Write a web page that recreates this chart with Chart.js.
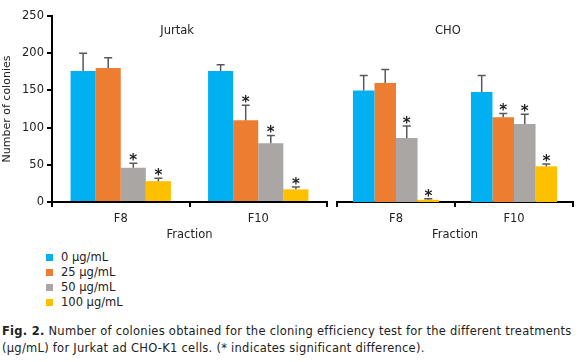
<!DOCTYPE html>
<html>
<head>
<meta charset="utf-8">
<script src="https://cdn.jsdelivr.net/npm/chart.js@4.4.1/dist/chart.umd.min.js"></script>
<style>
  html, body { margin: 0; padding: 0; background: #fff; }
  body { width: 580px; height: 362px; position: relative; overflow: hidden; font-family: "DejaVu Sans", Verdana, sans-serif; color: #222; }
  #left { position: absolute; left: 0; top: 0; }
  #right { position: absolute; left: 330px; top: 0; }
  #legend { position: absolute; left: 46px; top: 250px; font-size: 11.5px; line-height: 15px; }
  #legend div { display: flex; align-items: center; }
  #legend span.sw { display: inline-block; width: 7px; height: 7px; margin-right: 8px; }
  #caption { position: absolute; left: 2px; top: 323px; width: 580px; font-size: 11.5px; letter-spacing: 0.26px; line-height: 17px; }
</style>
</head>
<body>
<canvas id="left" width="330" height="245"></canvas>
<canvas id="right" width="250" height="245"></canvas>
<div id="legend"></div>
<div id="caption"><b>Fig. 2.</b> Number of colonies obtained for the cloning efficiency test for the different treatments (µg/mL) for Jurkat ad CHO-K1 cells. (* indicates significant difference).</div>
<script>
const fractions = ['F8', 'F10']
const doses = ['0 µg/mL', '25 µg/mL', '50 µg/mL', '100 µg/mL']
const doseColors = ['#00b0f0', '#ed7d31', '#a9a6a4', '#ffc000']
const yTicks = [0, 50, 100, 150, 200, 250]

// means per dose, [F8, F10]
const jurkatMeans = [[176, 176], [180, 110], [46, 79], [28, 17]]
const jurkatErr = [[24, 8.5], [14, 20], [6, 10.5], [4, 3]]
const jurkatSig = [[false, false], [false, true], [true, true], [true, true]]

const choMeans = [[150, 148], [160, 114], [86, 105], [3, 48]]
const choErr = [[20, 22], [18, 5], [16, 13], [1.5, 3]]
const choSig = [[false, false], [false, true], [true, true], [true, true]]

const FONT = '"DejaVu Sans", Verdana, sans-serif'
const TXT = '#222'

const errorBars = {
    id: 'errorBars',
    afterDatasetsDraw(chart, args, opts) {
        const { ctx, chartArea } = chart
        const y = chart.scales.y
        ctx.save()
        chart.data.datasets.forEach((ds, i) => {
            chart.getDatasetMeta(i).data.forEach((bar, j) => {
                const top = y.getPixelForValue(ds.data[j] + ds.err[j])
                ctx.strokeStyle = '#595959'
                ctx.lineWidth = 1.5
                ctx.beginPath()
                ctx.moveTo(bar.x, bar.y)
                ctx.lineTo(bar.x, top)
                ctx.moveTo(bar.x - 4, top)
                ctx.lineTo(bar.x + 4, top)
                ctx.stroke()
                if (ds.sig[j]) {
                    ctx.fillStyle = TXT
                    ctx.font = 'bold 15px ' + FONT
                    ctx.textAlign = 'center'
                    ctx.textBaseline = 'alphabetic'
                    ctx.fillText('*', bar.x, top + 2)
                }
            })
        })
        ctx.fillStyle = TXT
        ctx.font = '11.5px ' + FONT
        ctx.textAlign = 'center'
        ctx.textBaseline = 'middle'
        ctx.fillText(opts.text, chartArea.left + opts.pos * (chartArea.right - chartArea.left), 31)
        ctx.restore()
    }
}

function makeDatasets(means, errs, sigs) {
    return doses.map((label, i) => ({
        label,
        data: means[i],
        err: errs[i],
        sig: sigs[i],
        backgroundColor: doseColors[i],
        borderWidth: 0,
        categoryPercentage: 0.73,
        barPercentage: 1.0
    }))
}

function makeChart(canvas, means, errs, sigs, title, titlePos, showY, padding) {
    return new Chart(canvas.getContext('2d'), {
        type: 'bar',
        data: { labels: fractions, datasets: makeDatasets(means, errs, sigs) },
        options: {
            responsive: false,
            animation: false,
            layout: { padding },
            plugins: {
                legend: { display: false },
                tooltip: { enabled: false },
                errorBars: { text: title, pos: titlePos }
            },
            scales: {
                x: {
                    grid: { offset: true, drawOnChartArea: false, tickLength: 5, color: '#000', lineWidth: 2 },
                    border: { color: '#000', width: 2 },
                    ticks: { color: TXT, font: { family: FONT, size: 11.5 }, padding: 5 },
                    title: { display: true, text: 'Fraction', color: TXT, font: { family: FONT, size: 11.5 }, padding: { top: 1, bottom: 3 } },
                    afterFit: s => { s.height = 43 }
                },
                y: {
                    display: showY,
                    min: 0,
                    max: 250,
                    afterBuildTicks: s => { s.ticks = yTicks.map(v => ({ value: v })) },
                    grid: { drawOnChartArea: false, tickLength: 5, color: '#000', lineWidth: 2 },
                    border: { color: '#000', width: 2 },
                    ticks: { color: TXT, font: { family: FONT, size: 11.5 }, padding: 3 },
                    title: { display: true, text: 'Number of colonies', color: TXT, font: { family: FONT, size: 11 }, padding: { top: 1, bottom: 0 } },
                    afterFit: s => { if (showY) s.width = 52 }
                }
            }
        },
        plugins: [errorBars]
    })
}

makeChart(document.getElementById('left'), jurkatMeans, jurkatErr, jurkatSig, 'Jurtak', 0.455, true,
    { top: 16, right: 3, left: 0, bottom: 0 })
makeChart(document.getElementById('right'), choMeans, choErr, choSig, 'CHO', 0.47, false,
    { top: 16, right: 7, left: 7, bottom: 0 })

const legend = document.getElementById('legend')
doses.forEach((d, i) => {
    const row = document.createElement('div')
    row.innerHTML = `<span class="sw" style="background:${doseColors[i]}"></span>${d}`
    legend.appendChild(row)
})
</script>
</body>
</html>
